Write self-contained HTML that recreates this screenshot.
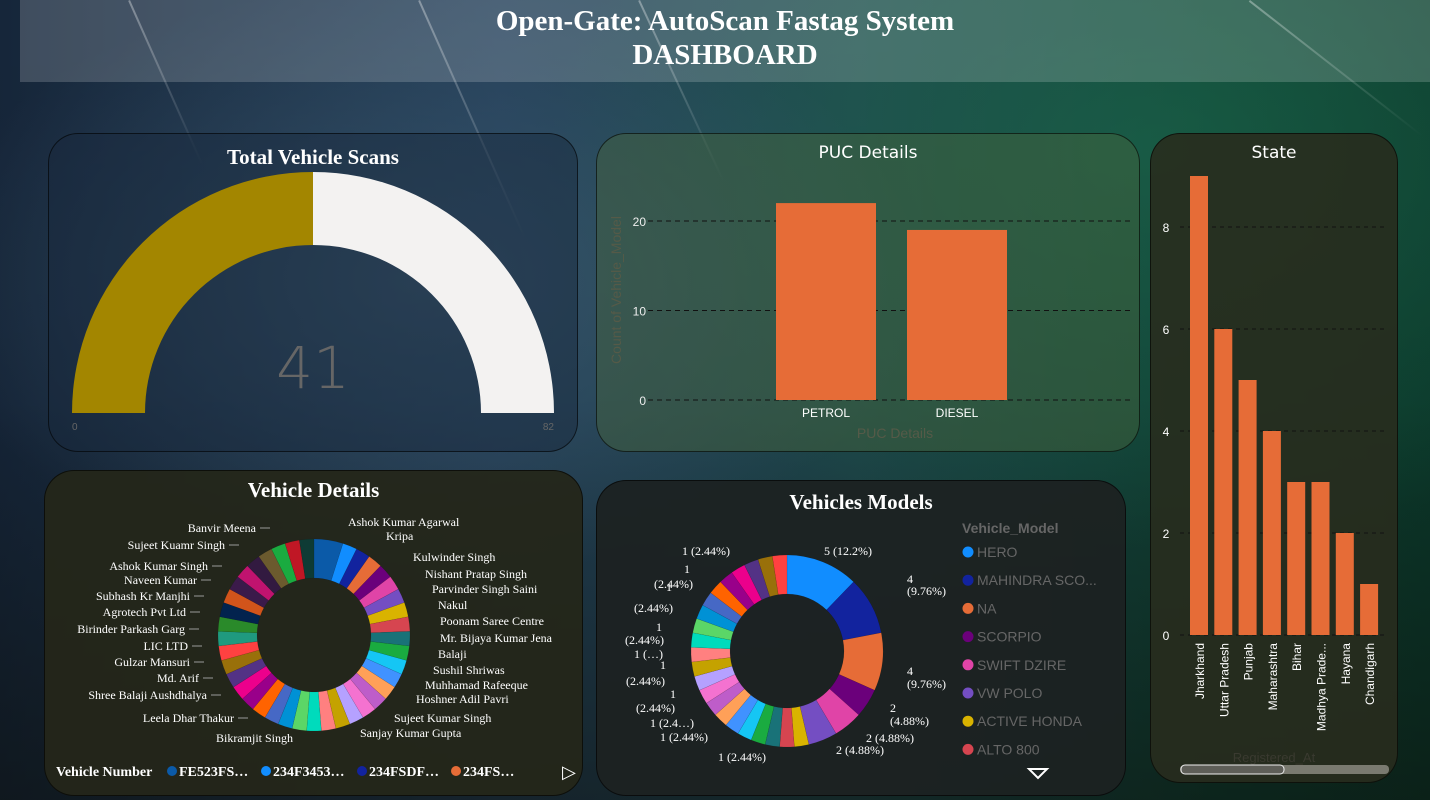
<!DOCTYPE html>
<html><head><meta charset="utf-8">
<style>
*{margin:0;padding:0;box-sizing:border-box}
body{width:1430px;height:800px;overflow:hidden;font-family:"Liberation Sans",sans-serif;position:relative;
background:
radial-gradient(ellipse 500px 300px at 420px 280px, rgba(70,100,120,0.55), transparent),
radial-gradient(ellipse 600px 400px at 1150px 150px, rgba(30,110,80,0.55), transparent),
linear-gradient(180deg, rgba(0,0,0,0) 0%, rgba(0,0,0,0.05) 50%, rgba(10,12,8,0.55) 100%),
linear-gradient(90deg,#16263a 0%,#24405a 35%,#1f4a4e 60%,#0f4234 85%,#0c3a2c 100%);}
.streak{position:absolute;height:2px;background:linear-gradient(90deg,rgba(255,255,255,0.35),rgba(255,255,255,0));transform-origin:0 0}
.hdr{position:absolute;left:20px;top:0;width:1410px;height:82px;background:rgba(255,255,255,0.18);text-align:center;color:#fff;font-family:"Liberation Serif",serif;font-weight:bold;font-size:29px;line-height:34px;padding-top:4px}
.panel{position:absolute;border:1px solid rgba(0,0,0,0.6);border-radius:30px}
.ptitle{position:absolute;left:0;right:0;text-align:center;color:#fff}
.serif{font-family:"Liberation Serif",serif;font-weight:bold;font-size:21px}
.sans{font-family:"DejaVu Sans",sans-serif;font-size:17px}
svg{position:absolute;left:0;top:0}
</style></head><body>
<div>
<div class="streak" style="left:420px;top:0;width:260px;transform:rotate(66deg)"></div>
<div class="streak" style="left:130px;top:0;width:180px;transform:rotate(66deg)"></div>
<div class="streak" style="left:1250px;top:0;width:220px;transform:rotate(38deg)"></div>
<div class="streak" style="left:640px;top:0;width:200px;transform:rotate(65deg)"></div>
</div>
<div class="hdr">Open-Gate: AutoScan Fastag System<br>DASHBOARD</div>

<div class="panel" style="left:48px;top:133px;width:530px;height:319px;background:rgba(25,40,60,0.45)">
<div class="ptitle serif" style="top:11px">Total Vehicle Scans</div></div>
<div class="panel" style="left:596px;top:133px;width:544px;height:319px;background:rgba(70,100,60,0.45)">
<div class="ptitle sans" style="top:9px">PUC Details</div></div>
<div class="panel" style="left:1150px;top:133px;width:248px;height:650px;background:rgba(40,44,30,0.9)">
<div class="ptitle sans" style="top:9px">State</div></div>
<div class="panel" style="left:44px;top:470px;width:539px;height:326px;background:rgba(36,38,26,0.94)">
<div class="ptitle serif" style="top:7px">Vehicle Details</div></div>
<div class="panel" style="left:596px;top:480px;width:530px;height:316px;background:rgba(28,34,34,0.95)">
<div class="ptitle serif" style="top:9px">Vehicles Models</div></div>

<svg id="s" width="1430" height="800" xmlns="http://www.w3.org/2000/svg"></svg>
<script>
// Gauge data
const gaugeValue = 41;
const gaugeMax = 82;
// PUC data
const pucCats = ["PETROL","DIESEL"];
const pucVals = [22,19];
const pucTicks = [0,10,20];
// State data
const stateCats = ["Jharkhand","Uttar Pradesh","Punjab","Maharashtra","Bihar","Madhya Prade...","Hayana","Chandigarh"];
const stateVals = [9,6,5,4,3,3,2,1];
const stateTicks = [0,2,4,6,8];
// Vehicle models data
const modelVals = [5,4,4,2,2,2,1,1,1,1,1,1,1,1,1,1,1,1,1,1,1,1,1,1,1,1,1,1];
const modelLegend = ["HERO","MAHINDRA SCO...","NA","SCORPIO","SWIFT DZIRE","VW POLO","ACTIVE HONDA","ALTO 800"];
// Vehicle details data
const ownerVals = [2,1,1,1,1,1,1,1,1,1,1,1,1,1,1,1,1,1,1,1,1,1,1,1,1,1,1,1,1,1,1,1,1,1,1,1,1,1,1,1];

const pal=["#118DFF","#12239E","#E66C37","#6B007B","#E044A7","#744EC2","#D9B300","#D64550","#197278","#1AAB40","#15C6F4","#4092FF","#FFA058","#BE5DC9","#F472D0","#B5A1FF","#C4A200","#FF8080","#00DBBC","#5BD667","#0091D5","#4668C5","#FF6300","#99008A","#EC008C","#533285","#99700A","#FF4141"];
const pal2=["#0B5AA8","#118DFF","#12239E","#E66C37","#6B007B","#E044A7","#744EC2","#D9B300","#D64550","#197278","#1AAB40","#15C6F4","#4092FF","#FFA058","#BE5DC9","#F472D0","#B5A1FF","#C4A200","#FF8080","#00DBBC","#5BD667","#0091D5","#4668C5","#FF6300","#99008A","#EC008C","#533285","#99700A","#FF4141","#1F9A7F","#2A8A2A","#02234E","#D2541B","#3B1A4A","#C0136F","#321A40","#6B5A2E","#1AAB40","#C01725","#0E3B35"];
const S=document.getElementById('s');const NS="http://www.w3.org/2000/svg";
function mk(t,a,p){const e=document.createElementNS(NS,t);for(const k in a)e.setAttribute(k,a[k]);(p||S).appendChild(e);return e;}
function arc(cx,cy,r0,r1,a0,a1){const p=(r,a)=>[cx+r*Math.sin(a),cy-r*Math.cos(a)];const L=(a1-a0)>Math.PI?1:0;
const [x0,y0]=p(r1,a0),[x1,y1]=p(r1,a1),[x2,y2]=p(r0,a1),[x3,y3]=p(r0,a0);
return `M${x0},${y0}A${r1},${r1} 0 ${L} 1 ${x1},${y1}L${x2},${y2}A${r0},${r0} 0 ${L} 0 ${x3},${y3}Z`;}
function txt(x,y,s,st,name){const t=mk('text',Object.assign({x:x,y:y},st));t.textContent=s;

return t;}

// Gauge
const gcx=313,gcy=413;const gA=v=>-Math.PI/2+Math.PI*v/gaugeMax;
let g1=mk('path',{d:arc(gcx,gcy,168,241,gA(0),gA(gaugeValue)),fill:'#A38600'});


let g2=mk('path',{d:arc(gcx,gcy,168,241,gA(gaugeValue),gA(gaugeMax)),fill:'#F3F2F1'});


txt(gcx,388,String(gaugeValue),{'text-anchor':'middle','font-size':'58',fill:'#666','font-family':'DejaVu Sans','font-weight':'200'},'gauge-value');
txt(72,430,'0',{'font-size':'10',fill:'#666'},'gauge-min');
txt(554,430,String(gaugeMax),{'font-size':'10',fill:'#666','text-anchor':'end'},'gauge-max');

// PUC
const py=v=>400-v*8.95;
pucTicks.forEach(t=>{let l=mk('line',{x1:648,x2:1130,y1:py(t),y2:py(t),stroke:'#111','stroke-dasharray':'5,4'});


txt(646,py(t)+5,String(t),{'text-anchor':'end','font-size':'12',fill:'#eee'},'puc-y-tick');});
pucCats.forEach((c,i)=>{const x=776+i*131;let r=mk('rect',{x:x,y:py(pucVals[i]),width:100,height:400-py(pucVals[i]),fill:'#E66C37'});


txt(x+50,417,c,{'text-anchor':'middle','font-size':'12',fill:'#fff'},'puc-x-label');});
txt(895,438,'PUC Details',{'text-anchor':'middle','font-size':'14',fill:'#555a48'},'puc-x-title');
txt(621,290,'Count of Vehicle_Model',{'text-anchor':'middle','font-size':'14',fill:'#555a48',transform:'rotate(-90 621 290)'},'puc-y-title');

// State
const sy=v=>635-v*51;
stateTicks.forEach(t=>{let l=mk('line',{x1:1180,x2:1388,y1:sy(t),y2:sy(t),stroke:'#111','stroke-dasharray':'4,4'});


txt(1166,sy(t)+5,String(t),{'text-anchor':'middle','font-size':'12',fill:'#fff'},'state-y-tick');});
stateCats.forEach((c,i)=>{const x=1190+i*24.3;let r=mk('rect',{x:x,y:sy(stateVals[i]),width:18,height:635-sy(stateVals[i]),fill:'#E66C37'});


txt(x+14,643,c,{'text-anchor':'end','font-size':'12',fill:'#fff',transform:`rotate(-90 ${x+14} 643)`},'state-x-label');});
txt(1274,762,'Registered_At',{'text-anchor':'middle','font-size':'13',fill:'#3a3a30'},'state-x-title');
let sb=mk('rect',{x:1180,y:765,width:209,height:9,rx:4,fill:'#7a7a70'});


let sb2=mk('rect',{x:1181,y:765,width:103,height:9,rx:4,fill:'#5e5e58',stroke:'#eee'});



// donut helper
function donut(cx,cy,vals,cols,name){const tot=vals.reduce((a,b)=>a+b,0);let a=0;
vals.forEach((v,i)=>{const a1=a+2*Math.PI*v/tot;let p=mk('path',{d:arc(cx,cy,57,96,a,a1),fill:cols[i%cols.length],stroke:'rgba(0,0,0,0.15)','stroke-width':'0.5'});

a=a1;});}
donut(314,635,ownerVals,pal2,'owner');
donut(787,651,modelVals,pal,'model');

function leader(x1,y1,x2,y2,x3){let l=mk('polyline',{points:`${x1},${y1} ${x2},${y2} ${x3},${y2}`,fill:'none',stroke:'#999','stroke-width':'1'});

}
// owner labels
const st={'font-size':'12',fill:'#fff','font-family':'Liberation Serif'};
[[348,526,"Ashok Kumar Agarwal"],[386,540,"Kripa"],[413,561,"Kulwinder Singh"],[425,578,"Nishant Pratap Singh"],[432,593,"Parvinder Singh Saini"],[438,609,"Nakul"],[440,625,"Poonam Saree Centre"],[440,642,"Mr. Bijaya Kumar Jena"],[438,658,"Balaji"],[433,674,"Sushil Shriwas"],[425,689,"Muhhamad Rafeeque"],[416,703,"Hoshner Adil Pavri"],[394,722,"Sujeet Kumar Singh"],[360,737,"Sanjay Kumar Gupta"],[216,742,"Bikramjit Singh"]].forEach(d=>{txt(d[0],d[1],d[2],st,'owner-label');});
const st2=Object.assign({'text-anchor':'end'},st);
[[256,532,"Banvir Meena"],[225,549,"Sujeet Kuamr Singh"],[208,570,"Ashok Kumar Singh"],[197,584,"Naveen Kumar"],[190,600,"Subhash Kr Manjhi"],[186,616,"Agrotech Pvt Ltd"],[185,633,"Birinder Parkash Garg"],[188,650,"LIC LTD"],[190,666,"Gulzar Mansuri"],[199,682,"Md. Arif"],[207,699,"Shree Balaji Aushdhalya"],[234,722,"Leela Dhar Thakur"]].forEach(d=>{txt(d[0],d[1],d[2],st2,'owner-label');leader(d[0]+14,d[1]-4,d[0]+4,d[1]-4,d[0]+4);});
txt(56,776,'Vehicle Number',{'font-size':'14','font-weight':'bold',fill:'#fff','font-family':'Liberation Serif'},'owner-legend-title');
[[172,"FE523FS…","#0B5AA8"],[266,"234F3453…","#118DFF"],[362,"234FSDF…","#12239E"],[456,"234FS…","#E66C37"]].forEach(d=>{let c=mk('circle',{cx:d[0],cy:771,r:5,fill:d[2]});


txt(d[0]+7,776,d[1],{'font-size':'14','font-weight':'bold',fill:'#fff','font-family':'Liberation Serif'},'owner-legend-entry');});
txt(562,778,'▷',{'font-size':'18',fill:'#fff'},'owner-legend-next');

// model labels
[[824,555,"5 (12.2%)"],[907,583,"4"],[907,595,"(9.76%)"],[907,675,"4"],[907,688,"(9.76%)"],[890,712,"2"],[890,725,"(4.88%)"],[866,742,"2 (4.88%)"],[836,754,"2 (4.88%)"],[718,761,"1 (2.44%)"],[660,741,"1 (2.44%)"],[650,727,"1 (2.4…)"],[670,698,"1"],[636,712,"(2.44%)"],[660,669,"1"],[626,685,"(2.44%)"],[634,658,"1 (…)"],[656,631,"1"],[625,644,"(2.44%)"],[666,591,"1"],[634,612,"(2.44%)"],[684,573,"1"],[654,588,"(2.44%)"],[682,555,"1 (2.44%)"]].forEach(d=>txt(d[0],d[1],d[2],{'font-size':'12',fill:'#fff','font-family':'Liberation Serif'},'model-label'));
txt(962,533,'Vehicle_Model',{'font-size':'14','font-weight':'bold',fill:'#666'},'model-legend-title');
modelLegend.forEach((m,i)=>{const y=552+i*28.2;let c=mk('circle',{cx:968,cy:y,r:5.5,fill:pal[i]});


txt(977,y+5,m,{'font-size':'14',fill:'#666'},'model-legend-entry');});
let tri=mk('path',{d:'M1029,769L1047,769L1038,778Z',fill:'none',stroke:'#fff','stroke-width':'2'});


</script>
</body></html>
